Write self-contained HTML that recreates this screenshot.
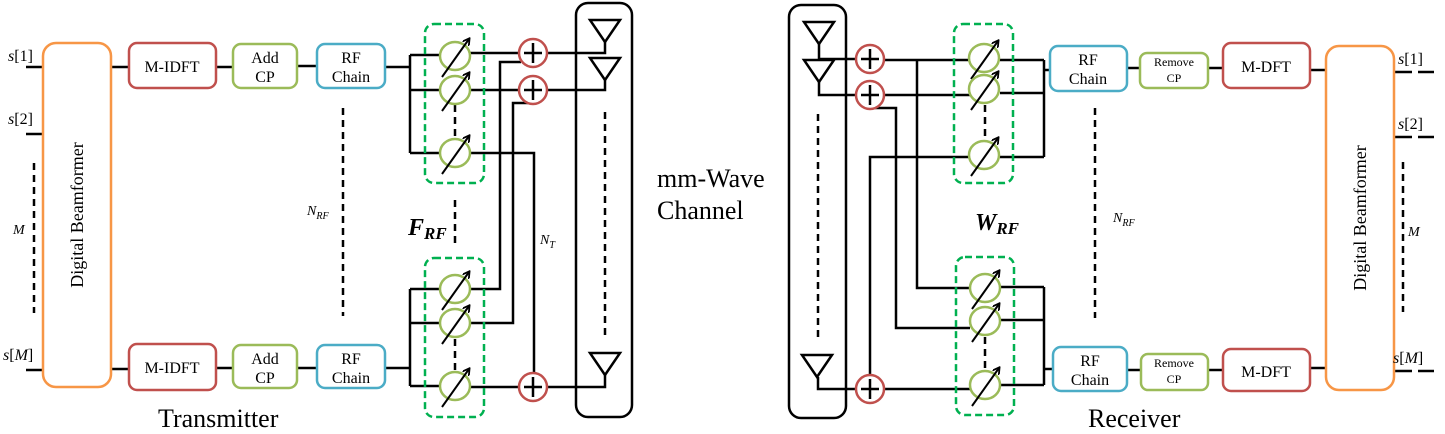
<!DOCTYPE html>
<html><head><meta charset="utf-8"><style>html,body{margin:0;padding:0;background:#fff}svg{display:block;font-family:"Liberation Serif",serif}</style></head>
<body>
<svg width="1445" height="434" viewBox="0 0 1445 434" xmlns="http://www.w3.org/2000/svg" font-family="Liberation Serif, serif">
<defs>
<marker id="ah" markerWidth="8" markerHeight="8" refX="6" refY="4" orient="auto" markerUnits="userSpaceOnUse"><path d="M0,0 L7,4 L0,8" fill="none" stroke="#000" stroke-width="1.8"/></marker>
<g id="ps"><ellipse cx="0" cy="0" rx="15" ry="14" fill="none" stroke="#9BBB59" stroke-width="2.5"/><line x1="-13" y1="21" x2="14" y2="-17" stroke="#000" stroke-width="2" marker-end="url(#ah)"/></g>
<g id="sum"><circle cx="0" cy="0" r="14" fill="#fff" stroke="#C0504D" stroke-width="2.5"/><line x1="-9" y1="0" x2="9" y2="0" stroke="#000" stroke-width="2.5"/><line x1="0" y1="-10" x2="0" y2="10" stroke="#000" stroke-width="2.5"/></g>
<g id="ant"><polygon points="-15,0 15,0 0,22" fill="none" stroke="#000" stroke-width="2.5"/></g>
</defs>
<g fill="none" stroke="#000" stroke-width="2.5">
<line x1="26" y1="67" x2="43" y2="67"/><line x1="26" y1="134" x2="43" y2="134"/><line x1="26" y1="370" x2="43" y2="370"/>
<line x1="111" y1="67" x2="129" y2="67"/><line x1="216" y1="67" x2="233" y2="67"/><line x1="297" y1="66" x2="317" y2="66"/>
<line x1="111" y1="369" x2="129" y2="369"/><line x1="216" y1="368" x2="233" y2="368"/><line x1="297" y1="368" x2="317" y2="368"/>
<polyline points="385,67 410,67"/><line x1="410" y1="55" x2="410" y2="153"/>
<line x1="410" y1="55" x2="440" y2="55"/><line x1="410" y1="90" x2="440" y2="90"/><line x1="410" y1="153" x2="440" y2="153"/>
<polyline points="385,368 410,368"/><line x1="410" y1="289" x2="410" y2="386"/>
<line x1="410" y1="289" x2="440" y2="289"/><line x1="410" y1="323" x2="440" y2="323"/><line x1="410" y1="386" x2="440" y2="386"/>
<line x1="470" y1="53" x2="520" y2="53"/><line x1="470" y1="90" x2="520" y2="90"/>
<polyline points="470,153 534,153 534,374"/>
<polyline points="470,289 500,289 500,62 521,62"/>
<polyline points="470,323 513,323 513,103 533,103"/>
<line x1="470" y1="387" x2="520" y2="387"/>
<polyline points="547,53 605,53 605,42"/><polyline points="547,90 605,90 605,80"/><polyline points="547,387 605,387 605,375"/>
<polyline points="819,42 819,59 856,59"/><polyline points="819,80 819,95 856,95"/><polyline points="818,377 818,389 856,389"/>
<line x1="884" y1="60" x2="970" y2="60"/><polyline points="917,60 917,288 970,288"/>
<line x1="884" y1="95" x2="970" y2="95"/><polyline points="874,108 896,108 896,328 970,328"/>
<polyline points="870,375 870,157 970,157"/><line x1="884" y1="389" x2="970" y2="389"/>
<line x1="1000" y1="60" x2="1044" y2="60"/><line x1="1000" y1="93" x2="1044" y2="93"/><line x1="1000" y1="157" x2="1044" y2="157"/><line x1="1044" y1="60" x2="1044" y2="157"/><line x1="1044" y1="70" x2="1050" y2="70"/>
<line x1="1000" y1="287" x2="1044" y2="287"/><line x1="1000" y1="320" x2="1044" y2="320"/><line x1="1000" y1="385" x2="1044" y2="385"/><line x1="1044" y1="287" x2="1044" y2="385"/><line x1="1044" y1="369" x2="1053" y2="369"/>
<line x1="1127" y1="68" x2="1140" y2="68"/><line x1="1208" y1="68" x2="1223" y2="68"/><line x1="1310" y1="70" x2="1326" y2="70"/>
<line x1="1127" y1="370" x2="1141" y2="370"/><line x1="1208" y1="370" x2="1223" y2="370"/><line x1="1310" y1="368" x2="1326" y2="368"/>
<line x1="1394" y1="72" x2="1412" y2="72"/><line x1="1418" y1="72" x2="1434" y2="72"/>
<line x1="1394" y1="137" x2="1412" y2="137"/><line x1="1418" y1="137" x2="1434" y2="137"/>
<line x1="1394" y1="371" x2="1412" y2="371"/><line x1="1418" y1="371" x2="1434" y2="371"/>
<g stroke-dasharray="7,5"><line x1="34" y1="163" x2="34" y2="313"/><line x1="343" y1="108" x2="343" y2="316"/><line x1="455" y1="105" x2="455" y2="136"/><line x1="455" y1="200" x2="455" y2="243"/><line x1="605" y1="112" x2="605" y2="335"/>
<line x1="818" y1="114" x2="818" y2="338"/><line x1="985" y1="105" x2="985" y2="138"/><line x1="985" y1="337" x2="985" y2="368"/><line x1="455" y1="339" x2="455" y2="370"/><line x1="1095" y1="108" x2="1095" y2="318"/><line x1="1403" y1="162" x2="1403" y2="312"/></g>
<rect x="43" y="43" width="68" height="344" rx="13" stroke="#F79646"/>
<rect x="1326" y="46" width="68" height="344" rx="13" stroke="#F79646"/>
<rect x="129" y="43" width="87" height="45" rx="8" stroke="#C0504D"/><rect x="129" y="344" width="87" height="46" rx="8" stroke="#C0504D"/>
<rect x="233" y="44" width="64" height="44" rx="8" stroke="#9BBB59"/><rect x="233" y="345" width="64" height="43" rx="8" stroke="#9BBB59"/>
<rect x="317" y="44" width="68" height="44" rx="8" stroke="#4BACC6"/><rect x="317" y="345" width="68" height="43" rx="8" stroke="#4BACC6"/>
<rect x="1050" y="46" width="77" height="45" rx="8" stroke="#4BACC6"/><rect x="1053" y="347" width="74" height="44" rx="8" stroke="#4BACC6"/>
<rect x="1140" y="53" width="68" height="35" rx="7" stroke="#9BBB59"/><rect x="1141" y="354" width="67" height="36" rx="7" stroke="#9BBB59"/>
<rect x="1223" y="43" width="87" height="45" rx="8" stroke="#C0504D"/><rect x="1223" y="349" width="87" height="42" rx="8" stroke="#C0504D"/>
<g stroke="#00B050" stroke-dasharray="7,4"><rect x="425" y="24" width="59" height="159" rx="9"/><rect x="425" y="258" width="59" height="159" rx="9"/><rect x="954" y="24" width="59" height="159" rx="9"/><rect x="956" y="257" width="58" height="158" rx="9"/></g>
<rect x="576" y="3" width="56" height="414" rx="12"/>
<rect x="789" y="5" width="57" height="413" rx="12"/>
</g>
<use href="#ps" x="455" y="56"/><use href="#ps" x="455" y="90"/><use href="#ps" x="455" y="153"/>
<use href="#ps" x="455" y="289"/><use href="#ps" x="455" y="323"/><use href="#ps" x="455" y="386"/>
<use href="#ps" x="984" y="58"/><use href="#ps" x="984" y="89"/><use href="#ps" x="984" y="155"/>
<use href="#ps" x="985" y="288"/><use href="#ps" x="985" y="321"/><use href="#ps" x="985" y="385"/>
<use href="#sum" x="533" y="53"/><use href="#sum" x="533" y="90"/><use href="#sum" x="533" y="387"/>
<use href="#sum" x="870" y="59"/><use href="#sum" x="870" y="95"/><use href="#sum" x="870" y="389"/>
<use href="#ant" x="605" y="20"/><use href="#ant" x="605" y="58"/><use href="#ant" x="605" y="353"/>
<use href="#ant" x="819" y="22"/><use href="#ant" x="819" y="60"/><use href="#ant" x="817" y="355"/>
<g font-size="16" text-anchor="middle" fill="#000" font-family="Liberation Serif, serif">
<text x="172" y="72">M-IDFT</text><text x="172" y="373">M-IDFT</text>
<text x="265" y="63">Add</text><text x="265" y="82">CP</text><text x="265" y="364">Add</text><text x="265" y="383">CP</text>
<text x="351" y="63">RF</text><text x="351" y="82">Chain</text><text x="351" y="364">RF</text><text x="351" y="383">Chain</text>
<text x="1088" y="65">RF</text><text x="1088" y="84">Chain</text><text x="1090" y="366">RF</text><text x="1090" y="385">Chain</text>
<text x="1266" y="72">M-DFT</text><text x="1266" y="377">M-DFT</text>
<g font-size="12"><text x="1174" y="66">Remove</text><text x="1174" y="82">CP</text><text x="1174" y="367">Remove</text><text x="1174" y="383">CP</text></g>
<text transform="translate(83,215) rotate(-90)" font-size="18">Digital  Beamformer</text>
<text transform="translate(1366,218) rotate(-90)" font-size="18">Digital  Beamformer</text>
</g>
<g font-size="16" fill="#000" font-family="Liberation Serif, serif">
<text x="8" y="61"><tspan font-style="italic">s</tspan>[1]</text><text x="8" y="124"><tspan font-style="italic">s</tspan>[2]</text><text x="3" y="360"><tspan font-style="italic">s</tspan>[<tspan font-style="italic">M</tspan>]</text><text x="13" y="234" font-style="italic" font-size="14">M</text>
<text x="1398" y="64"><tspan font-style="italic">s</tspan>[1]</text><text x="1398" y="129"><tspan font-style="italic">s</tspan>[2]</text><text x="1393" y="363"><tspan font-style="italic">s</tspan>[<tspan font-style="italic">M</tspan>]</text><text x="1408" y="236" font-style="italic" font-size="14">M</text>
<g font-style="italic" font-size="14">
<text x="307" y="215">N<tspan font-size="10" dy="4">RF</tspan></text>
<text x="1113" y="222">N<tspan font-size="10" dy="4">RF</tspan></text>
<text x="540" y="244">N<tspan font-size="10" dy="4">T</tspan></text>
<text x="408" y="235" font-size="24" font-weight="bold">F<tspan font-size="17" dy="4">RF</tspan></text>
<text x="975" y="230" font-size="24" font-weight="bold">W<tspan font-size="17" dy="4">RF</tspan></text>
</g>
</g>
<g font-size="26" fill="#000" font-family="Liberation Serif, serif">
<text x="158" y="427">Transmitter</text><text x="1088" y="427">Receiver</text>
<text x="657" y="187">mm-Wave</text><text x="657" y="219">Channel</text>
</g>
</svg>
</body></html>
